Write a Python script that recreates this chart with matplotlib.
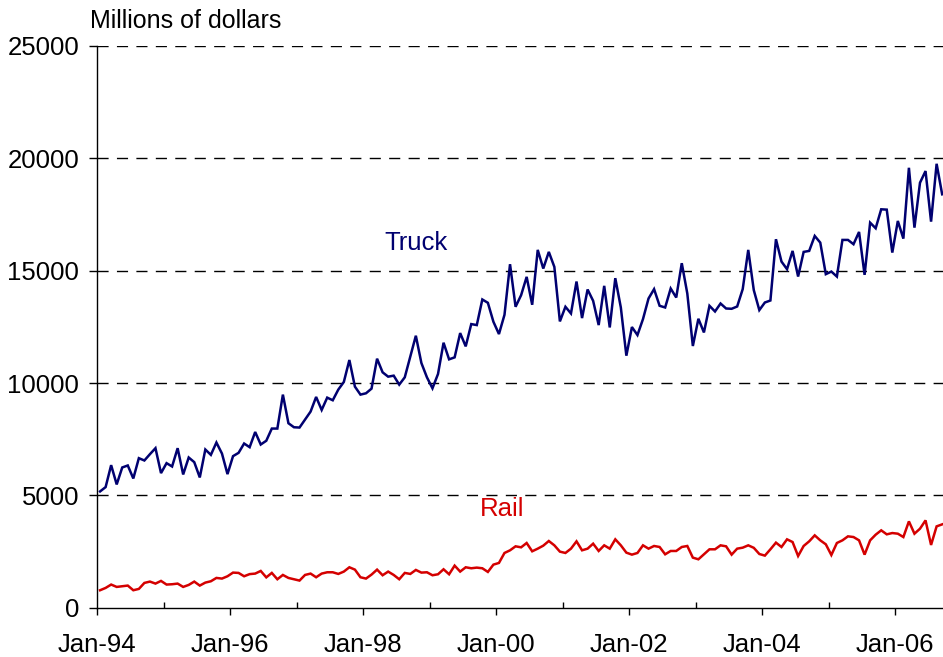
import numpy as np
import matplotlib
matplotlib.use("Agg")
import matplotlib.pyplot as plt
from matplotlib.ticker import FixedLocator

plt.rcParams['font.family'] = ['Liberation Sans', 'DejaVu Sans']

# Monthly values, Jan-94 .. Sep-06 (millions of dollars)
truck = [5175, 5367, 6345, 5486, 6241, 6330, 5752, 6655, 6552, 6833, 7100, 5990,
         6433, 6285, 7100, 5930, 6685, 6478, 5797, 7040, 6803, 7351, 6862, 5945,
         6745, 6892, 7307, 7144, 7820, 7263, 7430, 7973, 7973, 9484, 8210, 8031,
         8018, 8373, 8729, 9380, 8802, 9350, 9232, 9706, 10047, 11024, 9839, 9484,
         9543, 9750, 11083, 10476, 10283, 10328, 9928, 10254, 11186, 12105, 10890, 10254,
         9765, 10402, 11794, 11054, 11142, 12223, 11631, 12623, 12579, 13718, 13570, 12727,
         12179, 13037, 15288, 13393, 13910, 14725, 13482, 15925, 15096, 15836, 15169, 12742,
         13393, 13096, 14518, 12890, 14163, 13659, 12579, 14325, 12473, 14667, 13362, 11216,
         12491, 12135, 12846, 13762, 14179, 13437, 13362, 14206, 13806, 15334, 13983, 11647,
         12860, 12251, 13437, 13184, 13539, 13317, 13304, 13406, 14179, 15925, 14134, 13246,
         13584, 13673, 16400, 15405, 15067, 15880, 14739, 15836, 15880, 16546, 16249, 14845,
         14961, 14739, 16369, 16369, 16178, 16724, 14814, 17137, 16888, 17732, 17717, 15805,
         17213, 16427, 19580, 16915, 18914, 19434, 17182, 19758, 18399]

rail = [777, 880, 1030, 925, 955, 985, 777, 836, 1103, 1162, 1073, 1192,
        1030, 1044, 1073, 925, 1014, 1162, 985, 1117, 1177, 1325, 1296, 1399,
        1562, 1548, 1399, 1495, 1518, 1636, 1350, 1548, 1266, 1458, 1325, 1266,
        1207, 1458, 1518, 1355, 1518, 1577, 1577, 1503, 1607, 1799, 1695, 1355,
        1296, 1474, 1695, 1444, 1607, 1458, 1266, 1548, 1503, 1681, 1562, 1577,
        1444, 1488, 1710, 1488, 1873, 1607, 1799, 1755, 1784, 1755, 1592, 1917,
        1992, 2436, 2554, 2732, 2687, 2880, 2510, 2628, 2761, 2969, 2776, 2495,
        2436, 2628, 2954, 2554, 2628, 2850, 2525, 2776, 2628, 3043, 2776, 2450,
        2362, 2436, 2776, 2628, 2747, 2702, 2376, 2525, 2525, 2702, 2747, 2228,
        2154, 2376, 2599, 2599, 2776, 2732, 2362, 2628, 2672, 2776, 2665, 2390,
        2318, 2599, 2896, 2702, 3043, 2923, 2301, 2747, 2954, 3220, 2998, 2821,
        2345, 2880, 2998, 3176, 3145, 2998, 2362, 2998, 3250, 3443, 3265, 3323,
        3294, 3145, 3842, 3294, 3516, 3887, 2792, 3620, 3709]

year_labels = ["Jan-94", "Jan-96", "Jan-98", "Jan-00", "Jan-02", "Jan-04", "Jan-06"]
y_ticks = [0, 5000, 10000, 15000, 20000, 25000]

truck_color = '#000070'
rail_color = '#d40000'

fig = plt.figure(figsize=(9.43, 6.57), dpi=100)
ax = fig.add_axes([97.3 / 943, 49.3 / 657, 1 - 97.3 / 943, (611.0 - 49.3) / 657])

x = np.arange(len(truck)) + 0.5
ax.plot(x, truck, color=truck_color, lw=1.8, solid_joinstyle='miter', zorder=3)
ax.plot(x, rail, color=rail_color, lw=1.8, solid_joinstyle='miter', zorder=3)

ax.set_xlim(0, (943 - 97.3) / 5.54)
ax.set_ylim(0, 25000)

for yv in y_ticks[1:]:
    ax.axhline(yv, color='black', lw=1.0, ls=(0, (8, 6)), zorder=1)

ax.yaxis.set_major_locator(FixedLocator(y_ticks))
ax.set_yticklabels([str(v) for v in y_ticks])
ax.xaxis.set_major_locator(FixedLocator([24 * k for k in range(len(year_labels))]))
ax.set_xticklabels(year_labels)
ax.xaxis.set_minor_locator(FixedLocator([12 + 24 * k for k in range(7)]))

ax.tick_params(axis='y', which='major', direction='out', length=6, width=1,
               labelsize=18.5, pad=7)
ax.tick_params(axis='x', which='major', direction='out', length=5, width=1,
               labelsize=18.5, pad=13)
ax.tick_params(axis='x', which='minor', direction='in', length=4, width=1)

for s in ['top', 'right']:
    ax.spines[s].set_visible(False)
for s in ['left', 'bottom']:
    ax.spines[s].set_linewidth(1.0)
    ax.spines[s].set_color('black')

ax.text(57.5, 16231, "Truck", color=truck_color, fontsize=18.5, ha='center', va='center')
ax.text(73.0, 4393, "Rail", color=rail_color, fontsize=18.5, ha='center', va='center')

fig.text(90 / 943, 1 - 28 / 657, "Millions of dollars", fontsize=18,
         ha='left', va='baseline')

fig.savefig("out.png", dpi=100)
